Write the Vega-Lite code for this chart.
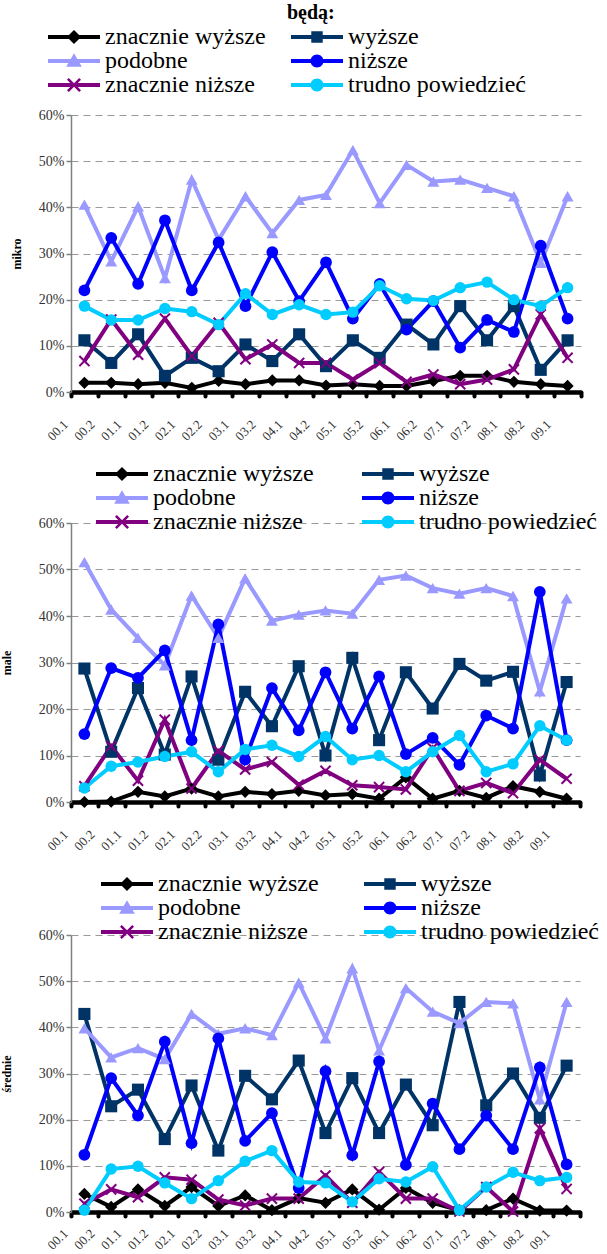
{
  "$schema": "https://vega.github.io/schema/vega-lite/v6.json",
  "background": "white",
  "padding": {"left": 0, "top": 3, "right": 0, "bottom": 0},
  "config": {
    "view": {"stroke": null},
    "font": "Liberation Serif, Times New Roman, DejaVu Serif, serif",
    "axisY": {
      "labelFont": "Liberation Serif, Times New Roman, DejaVu Serif, serif", "labelFontSize": 14, "labelColor": "#333333", "labelPadding": 2,
      "tickColor": "#808080", "tickSize": 5, "tickWidth": 1.5,
      "domainColor": "#808080", "domainWidth": 1.5,
      "titleFont": "Liberation Serif, Times New Roman, DejaVu Serif, serif", "titleFontSize": 12, "titleFontWeight": "bold", "titleColor": "#000000",
      "grid": true, "gridColor": "#999999", "gridDash": [7, 5], "gridWidth": 1
    },
    "axisX": {
      "domainColor": "#000000", "domainWidth": 4.5,
      "tickColor": "#000000", "tickWidth": 4, "tickSize": 4, "tickCap": "round", "tickBand": "extent",
      "labelAngle": -45, "labelAlign": "right", "labelBaseline": "middle",
      "labelFont": "Liberation Serif, Times New Roman, DejaVu Serif, serif", "labelFontSize": 13, "labelColor": "#333333",
      "labelOffset": -19, "labelPadding": 26, "grid": false, "title": null
    },
    "legend": {
      "orient": "none", "columns": 2, "rowPadding": 0, "clipHeight": 24, "symbolSize": 2704, "symbolOpacity": 1, "symbolStrokeWidth": 0,
      "labelFont": "Liberation Serif, Times New Roman, DejaVu Serif, serif", "labelFontSize": 24, "labelColor": "#000000", "labelOffset": 5, "labelLimit": 400,
      "titleAnchor": "middle", "titleAlign": "left", "titleFont": "Liberation Serif, Times New Roman, DejaVu Serif, serif", "titleFontSize": 20, "titleFontWeight": "bold", "titleColor": "#000000", "titlePadding": 2, "padding": 0
    }
  },
  "datasets": {
    "d": [
      {"panel":"mikro","period":"00.1","znacznie wyższe":2,"wyższe":11.2,"podobne":40.6,"niższe":22,"znacznie niższe":6.7,"trudno powiedzieć":18.6},
      {"panel":"mikro","period":"00.2","znacznie wyższe":2,"wyższe":6.3,"podobne":28.3,"niższe":33.4,"znacznie niższe":15.7,"trudno powiedzieć":15.6},
      {"panel":"mikro","period":"01.1","znacznie wyższe":1.7,"wyższe":12.5,"podobne":40.2,"niższe":23.4,"znacznie niższe":8.1,"trudno powiedzieć":15.6},
      {"panel":"mikro","period":"01.2","znacznie wyższe":2,"wyższe":3.5,"podobne":24.7,"niższe":37.2,"znacznie niższe":15.9,"trudno powiedzieć":18.1},
      {"panel":"mikro","period":"02.1","znacznie wyższe":0.9,"wyższe":7.4,"podobne":46,"niższe":22,"znacznie niższe":7.8,"trudno powiedzieć":17.4},
      {"panel":"mikro","period":"02.2","znacznie wyższe":2.4,"wyższe":4.5,"podobne":33,"niższe":32.4,"znacznie niższe":15,"trudno powiedzieć":14.6},
      {"panel":"mikro","period":"03.1","znacznie wyższe":1.7,"wyższe":10.3,"podobne":42.4,"niższe":18.6,"znacznie niższe":7.1,"trudno powiedzieć":21.3},
      {"panel":"mikro","period":"03.2","znacznie wyższe":2.5,"wyższe":6.7,"podobne":34.4,"niższe":30.3,"znacznie niższe":10.3,"trudno powiedzieć":16.8},
      {"panel":"mikro","period":"04.1","znacznie wyższe":2.5,"wyższe":12.5,"podobne":41.6,"niższe":19.7,"znacznie niższe":6.3,"trudno powiedzieć":18.9},
      {"panel":"mikro","period":"04.2","znacznie wyższe":1.4,"wyższe":5.6,"podobne":42.7,"niższe":28.1,"znacznie niższe":6.3,"trudno powiedzieć":16.8},
      {"panel":"mikro","period":"05.1","znacznie wyższe":1.7,"wyższe":11.2,"podobne":52.4,"niższe":15.9,"znacznie niższe":2.7,"trudno powiedzieć":17.3},
      {"panel":"mikro","period":"05.2","znacznie wyższe":1.3,"wyższe":7.4,"podobne":40.9,"niższe":23.4,"znacznie niższe":6.3,"trudno powiedzieć":23},
      {"panel":"mikro","period":"06.1","znacznie wyższe":1.3,"wyższe":14.6,"podobne":49.2,"niższe":13.5,"znacznie niższe":2.2,"trudno powiedzieć":20.2},
      {"panel":"mikro","period":"06.2","znacznie wyższe":2.4,"wyższe":10.3,"podobne":45.6,"niższe":19.7,"znacznie niższe":3.8,"trudno powiedzieć":19.8},
      {"panel":"mikro","period":"07.1","znacznie wyższe":3.5,"wyższe":18.6,"podobne":46,"niższe":9.6,"znacznie niższe":1.7,"trudno powiedzieć":22.6},
      {"panel":"mikro","period":"07.2","znacznie wyższe":3.5,"wyższe":11.2,"podobne":44.2,"niższe":15.6,"znacznie niższe":2.7,"trudno powiedzieć":23.8},
      {"panel":"mikro","period":"08.1","znacznie wyższe":2.2,"wyższe":18.6,"podobne":42.4,"niższe":13,"znacznie niższe":4.9,"trudno powiedzieć":20},
      {"panel":"mikro","period":"08.2","znacznie wyższe":1.7,"wyższe":4.8,"podobne":28,"niższe":31.7,"znacznie niższe":16.8,"trudno powiedzieć":18.6},
      {"panel":"mikro","period":"09.1","znacznie wyższe":1.3,"wyższe":11.2,"podobne":42.4,"niższe":15.9,"znacznie niższe":7.4,"trudno powiedzieć":22.6},

      {"panel":"male","period":"00.1","znacznie wyższe":0,"wyższe":28.7,"podobne":51.6,"niższe":14.6,"znacznie niższe":3.4,"trudno powiedzieć":3},
      {"panel":"male","period":"00.2","znacznie wyższe":0.1,"wyższe":10.8,"podobne":41.4,"niższe":28.8,"znacznie niższe":12,"trudno powiedzieć":7.7},
      {"panel":"male","period":"01.1","znacznie wyższe":2.2,"wyższe":24.5,"podobne":35.3,"niższe":26.7,"znacznie niższe":4.6,"trudno powiedzieć":8.6},
      {"panel":"male","period":"01.2","znacznie wyższe":1.2,"wyższe":10.2,"podobne":29.4,"niższe":32.6,"znacznie niższe":17.7,"trudno powiedzieć":9.8},
      {"panel":"male","period":"02.1","znacznie wyższe":2.9,"wyższe":27,"podobne":44.4,"niższe":13.3,"znacznie niższe":2.9,"trudno powiedzieć":10.8},
      {"panel":"male","period":"02.2","znacznie wyższe":1.2,"wyższe":9.1,"podobne":35.3,"niższe":38.2,"znacznie niższe":11,"trudno powiedzieć":6.5},
      {"panel":"male","period":"03.1","znacznie wyższe":2.2,"wyższe":23.7,"podobne":48.1,"niższe":9.1,"znacznie niższe":7,"trudno powiedzieć":11.3},
      {"panel":"male","period":"03.2","znacznie wyższe":1.7,"wyższe":16.3,"podobne":39,"niższe":24.5,"znacznie niższe":8.6,"trudno powiedzieć":12.2},
      {"panel":"male","period":"04.1","znacznie wyższe":2.4,"wyższe":29.2,"podobne":40.3,"niższe":15.4,"znacznie niższe":3.7,"trudno powiedzieć":9.8},
      {"panel":"male","period":"04.2","znacznie wyższe":1.4,"wyższe":10,"podobne":41.2,"niższe":27.9,"znacznie niższe":6.7,"trudno powiedzieć":14.1},
      {"panel":"male","period":"05.1","znacznie wyższe":1.7,"wyższe":31,"podobne":40.5,"niższe":15.8,"znacznie niższe":3.6,"trudno powiedzieć":9.1},
      {"panel":"male","period":"05.2","znacznie wyższe":0.7,"wyższe":13.3,"podobne":47.8,"niższe":27,"znacznie niższe":3.2,"trudno powiedzieć":10},
      {"panel":"male","period":"06.1","znacznie wyższe":5.3,"wyższe":27.9,"podobne":48.7,"niższe":10.3,"znacznie niższe":2.7,"trudno powiedzieć":6.5},
      {"panel":"male","period":"06.2","znacznie wyższe":0.7,"wyższe":20.1,"podobne":46,"niższe":13.8,"znacznie niższe":11.6,"trudno powiedzieć":10.8},
      {"panel":"male","period":"07.1","znacznie wyższe":2.4,"wyższe":29.7,"podobne":44.8,"niższe":8,"znacznie niższe":2.4,"trudno powiedzieć":14.3},
      {"panel":"male","period":"07.2","znacznie wyższe":0.9,"wyższe":26.1,"podobne":46,"niższe":18.6,"znacznie niższe":4.1,"trudno powiedzieć":6.5},
      {"panel":"male","period":"08.1","znacznie wyższe":3.4,"wyższe":28,"podobne":44.3,"niższe":15.8,"znacznie niższe":1.9,"trudno powiedzieć":8.2},
      {"panel":"male","period":"08.2","znacznie wyższe":2.2,"wyższe":5.7,"podobne":23.8,"niższe":45.2,"znacznie niższe":9.1,"trudno powiedzieć":16.4},
      {"panel":"male","period":"09.1","znacznie wyższe":0.7,"wyższe":25.8,"podobne":43.8,"niższe":13.3,"znacznie niższe":5,"trudno powiedzieć":13.3},

      {"panel":"srednie","period":"00.1","znacznie wyższe":3.9,"wyższe":42.9,"podobne":39.8,"niższe":12.4,"znacznie niższe":1.8,"trudno powiedzieć":0.4},
      {"panel":"srednie","period":"00.2","znacznie wyższe":1.1,"wyższe":22.9,"podobne":33.5,"niższe":29,"znacznie niższe":4.9,"trudno powiedzieć":9.3},
      {"panel":"srednie","period":"01.1","znacznie wyższe":4.9,"wyższe":26.5,"podobne":35.5,"niższe":20.9,"znacznie niższe":3.2,"trudno powiedzieć":9.9},
      {"panel":"srednie","period":"01.2","znacznie wyższe":1.3,"wyższe":15.8,"podobne":33.1,"niższe":36.9,"znacznie niższe":7.5,"trudno powiedzieć":6.3},
      {"panel":"srednie","period":"02.1","znacznie wyższe":5.4,"wyższe":27.4,"podobne":42.9,"niższe":14.9,"znacznie niższe":7,"trudno powiedzieć":2.9},
      {"panel":"srednie","period":"02.2","znacznie wyższe":1.3,"wyższe":13.3,"podobne":38.6,"niższe":37.6,"znacznie niższe":2.7,"trudno powiedzieć":6.8},
      {"panel":"srednie","period":"03.1","znacznie wyższe":3.6,"wyższe":29.5,"podobne":39.8,"niższe":15.4,"znacznie niższe":1.4,"trudno powiedzieć":11},
      {"panel":"srednie","period":"03.2","znacznie wyższe":0.4,"wyższe":24.4,"podobne":38.3,"niższe":21.4,"znacznie niższe":2.9,"trudno powiedzieć":13.3},
      {"panel":"srednie","period":"04.1","znacznie wyższe":3,"wyższe":32.8,"podobne":49.7,"niższe":5.2,"znacznie niższe":2.9,"trudno powiedzieć":6.5},
      {"panel":"srednie","period":"04.2","znacznie wyższe":2,"wyższe":17.1,"podobne":37.6,"niższe":30.5,"znacznie niższe":7.9,"trudno powiedzieć":6.3},
      {"panel":"srednie","period":"05.1","znacznie wyższe":4.9,"wyższe":29,"podobne":52.8,"niższe":12.3,"znacznie niższe":2,"trudno powiedzieć":2.2},
      {"panel":"srednie","period":"05.2","znacznie wyższe":0.5,"wyższe":17.1,"podobne":35,"niższe":32.6,"znacznie niższe":8.7,"trudno powiedzieć":7.2},
      {"panel":"srednie","period":"06.1","znacznie wyższe":5.2,"wyższe":27.6,"podobne":48.5,"niższe":10.2,"znacznie niższe":2.9,"trudno powiedzieć":6.5},
      {"panel":"srednie","period":"06.2","znacznie wyższe":2,"wyższe":18.8,"podobne":43.4,"niższe":23.5,"znacznie niższe":2.9,"trudno powiedzieć":9.8},
      {"panel":"srednie","period":"07.1","znacznie wyższe":0.4,"wyższe":45.5,"podobne":40.9,"niższe":13.6,"znacznie niższe":0.1,"trudno powiedzieć":0.4},
      {"panel":"srednie","period":"07.2","znacznie wyższe":0.4,"wyższe":23.1,"podobne":45.5,"niższe":20.9,"znacznie niższe":5.4,"trudno powiedzieć":5.4},
      {"panel":"srednie","period":"08.1","znacznie wyższe":2.9,"wyższe":30,"podobne":45.2,"niższe":13.6,"znacznie niższe":0.1,"trudno powiedzieć":8.6},
      {"panel":"srednie","period":"08.2","znacznie wyższe":0.3,"wyższe":20.4,"podobne":24.4,"niższe":31.3,"znacznie niższe":18.1,"trudno powiedzieć":6.8},
      {"panel":"srednie","period":"09.1","znacznie wyższe":0.3,"wyższe":31.7,"podobne":45.5,"niższe":10.3,"znacznie niższe":5,"trudno powiedzieć":7.5}
    ]
  },
  "data": {"name": "d"},
  "concat": [
    {
      "width": 510, "height": 277,
      "transform": [
        {"filter": "datum.panel === 'mikro'"},
        {"fold": ["znacznie wyższe","wyższe","podobne","niższe","znacznie niższe","trudno powiedzieć"], "as": ["series","value"]}
      ],
      "encoding": {
        "x": {"field": "period", "type": "ordinal", "scale": {"type": "band", "paddingInner": 0, "paddingOuter": 0}},
        "y": {"field": "value", "type": "quantitative", "scale": {"domain": [0, 60]},
              "axis": {"values": [0,10,20,30,40,50,60], "labelExpr": "datum.value + '%'", "title": "mikro", "titlePadding": 15}}
      },
      "layer": [
        {"mark": {"type": "line", "strokeWidth": 4},
         "encoding": {"color": {"field": "series", "type": "nominal", "legend": null,
           "scale": {"domain": ["znacznie wyższe","wyższe","podobne","niższe","znacznie niższe","trudno powiedzieć"], "range": ["#000000","#003366","#9999FF","#0000FF","#800080","#00CCFF"]}}}},
        {"mark": {"type": "point", "filled": true, "opacity": 1},
         "encoding": {
           "color": {"field": "series", "type": "nominal", "legend": null,
             "scale": {"domain": ["znacznie wyższe","wyższe","podobne","niższe","znacznie niższe","trudno powiedzieć"], "range": ["#000000","#003366","#9999FF","#0000FF","#800080","#00CCFF"]}},
           "shape": {"field": "series", "type": "nominal", "legend": null,
             "scale": {"domain": ["znacznie wyższe","wyższe","podobne","niższe","znacznie niższe","trudno powiedzieć"], "range": ["diamond","square","triangle-up","circle","M-1,-0.75L-0.75,-1L0,-0.25L0.75,-1L1,-0.75L0.25,0L1,0.75L0.75,1L0,0.25L-0.75,1L-1,0.75L-0.25,0Z","circle"]}},
           "size": {"field": "series", "type": "nominal", "legend": null,
             "scale": {"domain": ["znacznie wyższe","wyższe","podobne","niższe","znacznie niższe","trudno powiedzieć"], "range": [150,130,230,170,200,150]}}
         }},
        {"transform": [{"filter": "false"}],
         "mark": {"type": "point", "filled": true, "opacity": 1, "size": 2704},
         "encoding": {
           "color": {"field": "series", "type": "nominal",
             "scale": {"domain": ["znacznie wyższe","podobne","znacznie niższe","wyższe","niższe","trudno powiedzieć"], "range": ["#000000","#9999FF","#800080","#003366","#0000FF","#00CCFF"]},
             "legend": {"legendX": -23, "legendY": -112, "columnPadding": 25, "title": "będą:"}},
           "shape": {"field": "series", "type": "nominal",
             "scale": {"domain": ["znacznie wyższe","podobne","znacznie niższe","wyższe","niższe","trudno powiedzieć"], "range": [
               "M-1,-0.077H1V0.077H-1Z M0,-0.27L0.27,0L0,0.27L-0.27,0Z",
               "M-1,-0.077H1V0.077H-1Z M0,-0.3L0.3,0.22H-0.3Z",
               "M-1,-0.077H1V0.077H-1Z M-0.27,-0.2L-0.2,-0.27L0,-0.07L0.2,-0.27L0.27,-0.2L0.07,0L0.27,0.2L0.2,0.27L0,0.07L-0.2,0.27L-0.27,0.2L-0.07,0Z",
               "M-1,-0.077H1V0.077H-1Z M-0.22,-0.22H0.22V0.22H-0.22Z",
               "M-1,-0.077H1V0.077H-1Z M-0.25,0A0.25,0.25 0 1,1 0.25,0A0.25,0.25 0 1,1 -0.25,0Z",
               "M-1,-0.077H1V0.077H-1Z M-0.25,0A0.25,0.25 0 1,1 0.25,0A0.25,0.25 0 1,1 -0.25,0Z"]},
             "legend": {"legendX": -23, "legendY": -112, "columnPadding": 25, "title": "będą:"}}
         }}
      ],
      "resolve": {"scale": {"color": "independent", "shape": "independent", "size": "independent"}, "legend": {"color": "independent", "shape": "independent"}}
    },
    {
      "width": 509, "height": 279,
      "transform": [
        {"filter": "datum.panel === 'male'"},
        {"fold": ["znacznie wyższe","wyższe","podobne","niższe","znacznie niższe","trudno powiedzieć"], "as": ["series","value"]}
      ],
      "encoding": {
        "x": {"field": "period", "type": "ordinal", "scale": {"type": "band", "paddingInner": 0, "paddingOuter": 0}},
        "y": {"field": "value", "type": "quantitative", "scale": {"domain": [0, 60]},
              "axis": {"values": [0,10,20,30,40,50,60], "labelExpr": "datum.value + '%'", "title": "male", "titlePadding": 25}}
      },
      "layer": [
        {"mark": {"type": "line", "strokeWidth": 4},
         "encoding": {"color": {"field": "series", "type": "nominal", "legend": null,
           "scale": {"domain": ["znacznie wyższe","wyższe","podobne","niższe","znacznie niższe","trudno powiedzieć"], "range": ["#000000","#003366","#9999FF","#0000FF","#800080","#00CCFF"]}}}},
        {"mark": {"type": "point", "filled": true, "opacity": 1},
         "encoding": {
           "color": {"field": "series", "type": "nominal", "legend": null,
             "scale": {"domain": ["znacznie wyższe","wyższe","podobne","niższe","znacznie niższe","trudno powiedzieć"], "range": ["#000000","#003366","#9999FF","#0000FF","#800080","#00CCFF"]}},
           "shape": {"field": "series", "type": "nominal", "legend": null,
             "scale": {"domain": ["znacznie wyższe","wyższe","podobne","niższe","znacznie niższe","trudno powiedzieć"], "range": ["diamond","square","triangle-up","circle","M-1,-0.75L-0.75,-1L0,-0.25L0.75,-1L1,-0.75L0.25,0L1,0.75L0.75,1L0,0.25L-0.75,1L-1,0.75L-0.25,0Z","circle"]}},
           "size": {"field": "series", "type": "nominal", "legend": null,
             "scale": {"domain": ["znacznie wyższe","wyższe","podobne","niższe","znacznie niższe","trudno powiedzieć"], "range": [150,130,230,170,200,150]}}
         }},
        {"transform": [{"filter": "false"}],
         "mark": {"type": "point", "filled": true, "opacity": 1, "size": 2704},
         "encoding": {
           "color": {"field": "series", "type": "nominal",
             "scale": {"domain": ["znacznie wyższe","podobne","znacznie niższe","wyższe","niższe","trudno powiedzieć"], "range": ["#000000","#9999FF","#800080","#003366","#0000FF","#00CCFF"]},
             "legend": {"legendX": 25, "legendY": -61, "columnPadding": 48, "title": null}},
           "shape": {"field": "series", "type": "nominal",
             "scale": {"domain": ["znacznie wyższe","podobne","znacznie niższe","wyższe","niższe","trudno powiedzieć"], "range": [
               "M-1,-0.077H1V0.077H-1Z M0,-0.27L0.27,0L0,0.27L-0.27,0Z",
               "M-1,-0.077H1V0.077H-1Z M0,-0.3L0.3,0.22H-0.3Z",
               "M-1,-0.077H1V0.077H-1Z M-0.27,-0.2L-0.2,-0.27L0,-0.07L0.2,-0.27L0.27,-0.2L0.07,0L0.27,0.2L0.2,0.27L0,0.07L-0.2,0.27L-0.27,0.2L-0.07,0Z",
               "M-1,-0.077H1V0.077H-1Z M-0.22,-0.22H0.22V0.22H-0.22Z",
               "M-1,-0.077H1V0.077H-1Z M-0.25,0A0.25,0.25 0 1,1 0.25,0A0.25,0.25 0 1,1 -0.25,0Z",
               "M-1,-0.077H1V0.077H-1Z M-0.25,0A0.25,0.25 0 1,1 0.25,0A0.25,0.25 0 1,1 -0.25,0Z"]},
             "legend": {"legendX": 25, "legendY": -61, "columnPadding": 48, "title": null}}
         }}
      ],
      "resolve": {"scale": {"color": "independent", "shape": "independent", "size": "independent"}, "legend": {"color": "independent", "shape": "independent"}}
    },
    {
      "width": 509, "height": 277,
      "transform": [
        {"filter": "datum.panel === 'srednie'"},
        {"fold": ["znacznie wyższe","wyższe","podobne","niższe","znacznie niższe","trudno powiedzieć"], "as": ["series","value"]}
      ],
      "encoding": {
        "x": {"field": "period", "type": "ordinal", "scale": {"type": "band", "paddingInner": 0, "paddingOuter": 0},
              "axis": {"labelPadding": 15}},
        "y": {"field": "value", "type": "quantitative", "scale": {"domain": [0, 60]},
              "axis": {"values": [0,10,20,30,40,50,60], "labelExpr": "datum.value + '%'", "title": "średnie", "titlePadding": 25}}
      },
      "layer": [
        {"mark": {"type": "line", "strokeWidth": 4},
         "encoding": {"color": {"field": "series", "type": "nominal", "legend": null,
           "scale": {"domain": ["znacznie wyższe","wyższe","podobne","niższe","znacznie niższe","trudno powiedzieć"], "range": ["#000000","#003366","#9999FF","#0000FF","#800080","#00CCFF"]}}}},
        {"mark": {"type": "point", "filled": true, "opacity": 1},
         "encoding": {
           "color": {"field": "series", "type": "nominal", "legend": null,
             "scale": {"domain": ["znacznie wyższe","wyższe","podobne","niższe","znacznie niższe","trudno powiedzieć"], "range": ["#000000","#003366","#9999FF","#0000FF","#800080","#00CCFF"]}},
           "shape": {"field": "series", "type": "nominal", "legend": null,
             "scale": {"domain": ["znacznie wyższe","wyższe","podobne","niższe","znacznie niższe","trudno powiedzieć"], "range": ["diamond","square","triangle-up","circle","M-1,-0.75L-0.75,-1L0,-0.25L0.75,-1L1,-0.75L0.25,0L1,0.75L0.75,1L0,0.25L-0.75,1L-1,0.75L-0.25,0Z","circle"]}},
           "size": {"field": "series", "type": "nominal", "legend": null,
             "scale": {"domain": ["znacznie wyższe","wyższe","podobne","niższe","znacznie niższe","trudno powiedzieć"], "range": [150,130,230,170,200,150]}}
         }},
        {"transform": [{"filter": "false"}],
         "mark": {"type": "point", "filled": true, "opacity": 1, "size": 2704},
         "encoding": {
           "color": {"field": "series", "type": "nominal",
             "scale": {"domain": ["znacznie wyższe","podobne","znacznie niższe","wyższe","niższe","trudno powiedzieć"], "range": ["#000000","#9999FF","#800080","#003366","#0000FF","#00CCFF"]},
             "legend": {"legendX": 30, "legendY": -63, "columnPadding": 45, "title": null}},
           "shape": {"field": "series", "type": "nominal",
             "scale": {"domain": ["znacznie wyższe","podobne","znacznie niższe","wyższe","niższe","trudno powiedzieć"], "range": [
               "M-1,-0.077H1V0.077H-1Z M0,-0.27L0.27,0L0,0.27L-0.27,0Z",
               "M-1,-0.077H1V0.077H-1Z M0,-0.3L0.3,0.22H-0.3Z",
               "M-1,-0.077H1V0.077H-1Z M-0.27,-0.2L-0.2,-0.27L0,-0.07L0.2,-0.27L0.27,-0.2L0.07,0L0.27,0.2L0.2,0.27L0,0.07L-0.2,0.27L-0.27,0.2L-0.07,0Z",
               "M-1,-0.077H1V0.077H-1Z M-0.22,-0.22H0.22V0.22H-0.22Z",
               "M-1,-0.077H1V0.077H-1Z M-0.25,0A0.25,0.25 0 1,1 0.25,0A0.25,0.25 0 1,1 -0.25,0Z",
               "M-1,-0.077H1V0.077H-1Z M-0.25,0A0.25,0.25 0 1,1 0.25,0A0.25,0.25 0 1,1 -0.25,0Z"]},
             "legend": {"legendX": 30, "legendY": -63, "columnPadding": 45, "title": null}}
         }}
      ],
      "resolve": {"scale": {"color": "independent", "shape": "independent", "size": "independent"}, "legend": {"color": "independent", "shape": "independent"}}
    }
  ],
  "columns": 1,
  "align": "none",
  "spacing": 18,
  "resolve": {
    "scale": {"color": "independent", "shape": "independent", "size": "independent", "x": "independent", "y": "independent"},
    "legend": {"color": "independent", "shape": "independent"}
  }
}
